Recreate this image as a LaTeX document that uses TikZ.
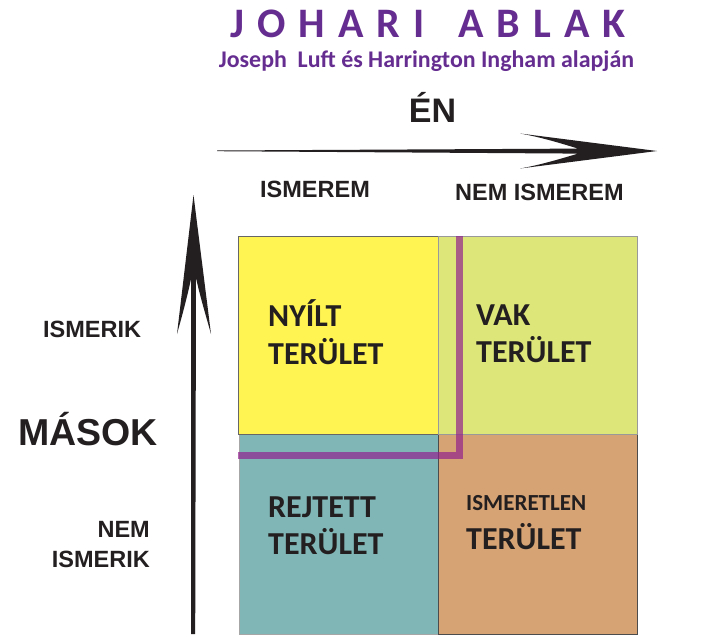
\documentclass[tikz,border=0pt]{standalone}
\usepackage{fontspec}
\setmainfont{Carlito}
\newfontfamily\axisfont{Liberation Sans}
\definecolor{titlepurple}{RGB}{102,45,145}
\definecolor{linepurple}{RGB}{143,29,141}
\definecolor{openyellow}{RGB}{255,244,82}
\definecolor{blindgreen}{RGB}{221,230,120}
\definecolor{hiddenteal}{RGB}{128,182,182}
\definecolor{unknownorange}{RGB}{214,163,116}
\definecolor{inkdark}{RGB}{35,31,32}
\begin{document}
\begin{tikzpicture}[x=1pt,y=-1pt,
  quad/.style={inner sep=0pt, line width=0.8pt, minimum width=199pt, minimum height=198pt},
  lbl/.style={anchor=base west, inner sep=0pt, text=inkdark, font=\bfseries\fontsize{32}{38}\selectfont},
  axlbl/.style={inner sep=0pt, text=inkdark, font=\axisfont\bfseries\fontsize{23.5}{28}\selectfont},
  arrowfill/.style={fill=inkdark, draw=none},
  purpleline/.style={draw=linepurple, draw opacity=0.68, line width=7pt}]
\useasboundingbox (0,0) rectangle (725,637);
\fill[white] (0,0) rectangle (725,637);

% quadrants
\node[quad, fill=hiddenteal, draw=gray!70, minimum width=199pt, minimum height=200pt] (hidden) at (338.5,534) {};
\node[quad, fill=unknownorange, draw=gray!60!black, minimum width=199pt, minimum height=200pt] (unknown) at (537.5,534) {};
\node[quad, fill=openyellow, draw=gray!80!black, minimum width=200pt] (open) at (338,335) {};
\node[quad, fill=blindgreen, draw=gray!80, minimum width=199pt] (blind) at (537.5,335) {};

% purple boundary line
\coordinate (ptop) at (459,236);
\coordinate (pcorner) at (459,455);
\coordinate (pleft) at (238,455);
\draw[purpleline] (ptop) -- (pcorner) -- (pleft);

% title
\node[inner sep=0pt, anchor=base, text=titlepurple, font=\bfseries\fontsize{42}{50}\selectfont] (title) at (428,37)
  {J\hspace{13pt}O\hspace{13pt}H\hspace{13pt}A\hspace{13pt}R\hspace{13pt}I\hspace{34pt}A\hspace{13pt}B\hspace{13pt}L\hspace{13pt}A\hspace{13pt}K};
\node[inner sep=0pt, anchor=base, text=titlepurple, font=\bfseries\fontsize{23.9}{28}\selectfont] (subtitle) at (426.5,67)
  {Joseph\ \ Luft és Harrington Ingham alapján};

% axis labels
\node[axlbl, anchor=base, font=\axisfont\bfseries\fontsize{34}{40}\selectfont] (en) at (432.5,122) {ÉN};
\node[axlbl, anchor=base west] (ismerem) at (260,197) {ISMEREM};
\node[axlbl, anchor=base west] (nemismerem) at (455,200) {NEM ISMEREM};
\node[axlbl, anchor=base west] (ismerik) at (43,337) {ISMERIK};
\node[axlbl, anchor=base west, font=\axisfont\bfseries\fontsize{37.5}{44}\selectfont] (masok) at (18,445) {MÁSOK};
\node[axlbl, anchor=base east] (nem) at (150,537) {NEM};
\node[axlbl, anchor=base east] (nemismerik) at (150,567) {ISMERIK};

% horizontal arrow (ÉN)
\coordinate (hstart) at (217,150.5);
\coordinate (htip) at (657,151);
\fill[arrowfill] (hstart) -- (578,148.6) .. controls (560,143) and (540,137) .. (520,133.5) -- (htip)
  -- (520,168.5) .. controls (540,165) and (560,159) .. (578,153.6) -- (217,151.2) -- cycle;

% vertical arrow (MÁSOK)
\coordinate (vstart) at (193,634);
\coordinate (vtip) at (193.5,195);
\fill[arrowfill] (191,634) -- (191.2,278) .. controls (187,298) and (182,316) .. (177,334) -- (vtip)
  -- (211,334) .. controls (206,316) and (200.5,298) .. (196,278) -- (195.2,634) -- cycle;

% quadrant labels
\node[lbl] (open1) at (268,326) {NYÍLT};
\node[lbl] (open2) at (268,364) {TERÜLET};
\node[lbl] (blind1) at (476,325) {VAK};
\node[lbl] (blind2) at (476,362) {TERÜLET};
\node[lbl] (hidden1) at (268,517) {REJTETT};
\node[lbl] (hidden2) at (268,554) {TERÜLET};
\node[lbl, font=\bfseries\fontsize{23}{28}\selectfont] (unknown1) at (466,510) {ISMERETLEN};
\node[lbl] (unknown2) at (466,549) {TERÜLET};
\end{tikzpicture}
\end{document}
